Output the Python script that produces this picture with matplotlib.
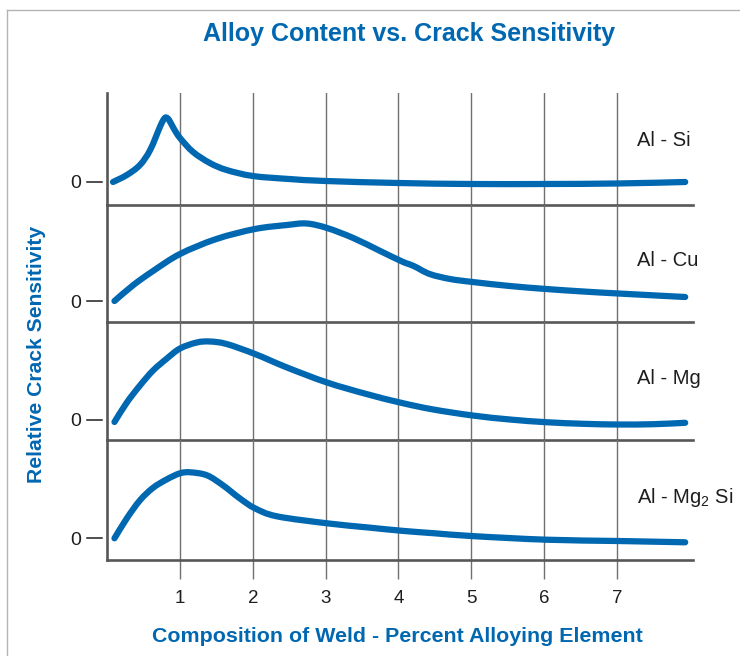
import matplotlib
matplotlib.use("Agg")
import numpy as np
import matplotlib.pyplot as plt
from matplotlib.lines import Line2D
from matplotlib.path import Path
from matplotlib.patches import PathPatch
import matplotlib.transforms as mtransforms

# relative crack sensitivity vs. percent alloying element, one curve per alloy system
si_x = [0.08, 0.27, 0.45, 0.59, 0.73, 0.78, 0.81, 0.85, 0.91, 1.0, 1.18, 1.41, 1.64, 2.0, 2.5, 3.0, 4.0, 5.0, 6.0, 7.0, 7.94]
si_y = [0.0, 0.7, 1.7, 3.2, 5.6, 6.3, 6.45, 6.2, 5.4, 4.4, 3.0, 1.9, 1.2, 0.6, 0.3, 0.1, -0.1, -0.2, -0.2, -0.15, 0.0]

cu_x = [0.1, 0.36, 0.63, 1.0, 1.5, 2.03, 2.47, 2.74, 3.02, 3.38, 3.75, 4.05, 4.21, 4.43, 4.71, 5.02, 5.53, 6.03, 6.54, 7.02, 7.94]
cu_y = [0.0, 1.6, 3.0, 4.7, 6.2, 7.2, 7.6, 7.75, 7.3, 6.3, 5.0, 3.95, 3.5, 2.7, 2.2, 1.9, 1.5, 1.2, 0.95, 0.75, 0.4]

mg_x = [0.1, 0.27, 0.45, 0.63, 0.82, 1.0, 1.23, 1.41, 1.64, 2.03, 2.47, 3.02, 3.56, 4.05, 4.48, 5.02, 5.53, 6.03, 6.54, 7.02, 7.5, 7.94]
mg_y = [-0.25, 1.7, 3.4, 4.9, 6.1, 7.1, 7.7, 7.8, 7.55, 6.55, 5.2, 3.7, 2.55, 1.65, 1.0, 0.4, 0.0, -0.27, -0.43, -0.5, -0.47, -0.33]

mg2si_x = [0.1, 0.27, 0.45, 0.63, 0.82, 1.0, 1.14, 1.37, 1.59, 1.82, 2.03, 2.33, 3.02, 3.56, 4.05, 4.5, 5.02, 6.03, 7.02, 7.94]
mg2si_y = [0.0, 2.0, 3.8, 5.05, 5.9, 6.5, 6.6, 6.3, 5.3, 4.0, 3.0, 2.2, 1.5, 1.1, 0.75, 0.5, 0.22, -0.14, -0.27, -0.4]

alloy_names = ["Al - Si", "Al - Cu", "Al - Mg", "Al - Mg$_2$ Si"]
x_ticks = [1, 2, 3, 4, 5, 6, 7]

BLUE = "#0067b1"
AXIS = "#575757"
GRID = "#707070"
TEXT = "#1e1e1e"

plt.rcParams["font.family"] = ["Liberation Sans", "DejaVu Sans"]
plt.rcParams["mathtext.default"] = "regular"


def smooth_path(xs, ys):
    """Catmull-Rom style cubic Bezier path passing through every point."""
    pts = np.column_stack([xs, ys]).astype(float)
    verts = [pts[0]]
    codes = [Path.MOVETO]
    n = len(pts)
    for i in range(n - 1):
        p0 = pts[max(i - 1, 0)]
        p1 = pts[i]
        p2 = pts[i + 1]
        p3 = pts[min(i + 2, n - 1)]
        c1 = p1 + (p2 - p0) / 6
        c2 = p2 - (p3 - p1) / 6
        verts += [c1, c2, p2]
        codes += [Path.CURVE4] * 3
    return Path(verts, codes)


W, H = 740, 656
fig = plt.figure(figsize=(W / 100, H / 100), dpi=100)

# pixel bounds of the stacked panels: (top, bottom, ylim)
LEFT, RIGHT = 107.2, 693.2
panels = [
    (93, 205, (-2.3, 8.9)),
    (205, 322, (-2.1, 9.6)),
    (322, 440, (-2.05, 9.75)),
    (440, 560, (-2.17, 9.83)),
]
series = [(si_x, si_y), (cu_x, cu_y), (mg_x, mg_y), (mg2si_x, mg2si_y)]

for i, ((top, bottom, ylim), (xs, ys), name) in enumerate(zip(panels, series, alloy_names)):
    ax = fig.add_axes([LEFT / W, 1 - bottom / H, (RIGHT - LEFT) / W, (bottom - top) / H])
    ax.add_patch(PathPatch(smooth_path(xs, ys), facecolor="none", edgecolor=BLUE, lw=4.5,
                           capstyle="round", joinstyle="round", zorder=3))
    ax.set_xlim(0, 8.05)
    ax.set_ylim(*ylim)
    ax.set_facecolor("none")

    for side in ("top", "right"):
        ax.spines[side].set_visible(False)
    for side in ("left", "bottom"):
        ax.spines[side].set_color(AXIS)
        ax.spines[side].set_linewidth(1.9)
        ax.spines[side].set_zorder(4)

    ax.set_xticks(x_ticks)
    ax.grid(axis="x", color=GRID, lw=1.0, zorder=1)
    if i == len(panels) - 1:
        ax.tick_params(axis="x", direction="out", length=13.5, width=1.0, color=GRID,
                       pad=8, labelsize=13.5, labelcolor=TEXT)
    else:
        ax.tick_params(axis="x", length=0, labelbottom=False)

    ax.set_yticks([0])
    ax.set_yticklabels(["0"])
    ax.tick_params(axis="y", length=0, pad=18.5, labelsize=14, labelcolor=TEXT)
    # short dash beside the zero label
    trans = mtransforms.blended_transform_factory(ax.transAxes, ax.transData)
    ax.add_line(Line2D([-0.034, -0.0085], [0, 0], transform=trans, color=TEXT,
                       lw=1.1, clip_on=False))

    ax.text(7.28, 4.1, name, fontsize=14.5, color=TEXT, va="center", ha="left")

fig.text(409 / W, 1 - 34 / H, "Alloy Content vs. Crack Sensitivity",
         fontweight="bold", fontsize=18, color=BLUE, ha="center", va="center")
fig.text(397 / W, 1 - 636 / H, "Composition of Weld - Percent Alloying Element",
         fontweight="bold", fontsize=15.4, color=BLUE, ha="center", va="center")
fig.text(37 / W, 1 - 354 / H, "Relative Crack Sensitivity", rotation=90,
         fontweight="bold", fontsize=15.2, color=BLUE, ha="center", va="center")

# thin frame around the figure
fig.add_artist(Line2D([7 / W, 7 / W], [0, 1 - 10 / H], color="#b4b4b4", lw=1.0))
fig.add_artist(Line2D([7 / W, 1], [1 - 10 / H, 1 - 10 / H], color="#b4b4b4", lw=1.0))

fig.savefig("out.png", dpi=100)
